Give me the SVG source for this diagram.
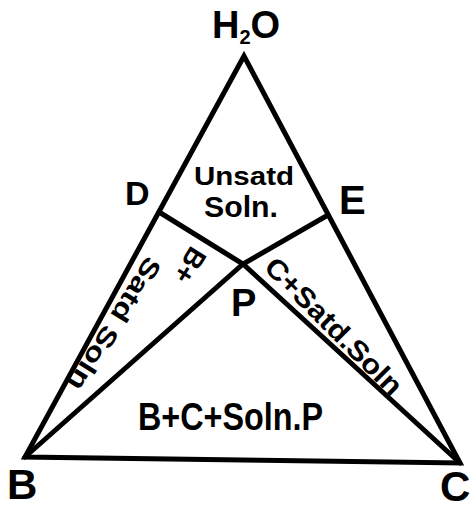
<svg xmlns="http://www.w3.org/2000/svg" width="470" height="509" viewBox="0 0 470 509">
<style>
.ln{fill:none;stroke:#000;stroke-width:5;stroke-linejoin:miter;stroke-linecap:round}
text{font-family:"Liberation Sans",Arial,sans-serif;font-weight:bold;fill:#000}
</style>
<rect width="470" height="509" fill="#fff"/>
<g id="connectors">
<polygon class="ln" points="244,56 25,457 460,463"/>
<polyline class="ln" points="159,212 243,264 460,463"/>
<polyline class="ln" points="328,215 243,264 25,457"/>
</g>
<g id="node-H2O"><text x="246" y="38" font-size="38" text-anchor="middle">H<tspan font-size="20" dy="6">2</tspan><tspan dy="-6">O</tspan></text></g>
<g id="node-B"><text x="7" y="499" font-size="42">B</text></g>
<g id="node-C"><text x="440" y="501" font-size="42">C</text></g>
<g id="node-D"><text x="125" y="205" font-size="34">D</text></g>
<g id="node-E"><text x="339" y="214" font-size="40">E</text></g>
<g id="node-P"><text x="231" y="316" font-size="38">P</text></g>
<g id="region-unsatd">
<text x="194" y="185" font-size="26" textLength="100" lengthAdjust="spacingAndGlyphs">Unsatd</text>
<text x="204" y="217" font-size="30" textLength="74" lengthAdjust="spacingAndGlyphs">Soln.</text>
</g>
<g id="region-B-satd">
<text transform="rotate(122)" text-anchor="middle"><tspan x="124.5" y="-292" font-size="28">B+</tspan><tspan x="214" y="-260" font-size="26" textLength="152" lengthAdjust="spacingAndGlyphs">Satd Soln</tspan></text>
</g>
<g id="region-C-satd">
<text transform="translate(327,333) rotate(45)" font-size="28" text-anchor="middle" textLength="182" lengthAdjust="spacingAndGlyphs">C+Satd.Soln</text>
</g>
<g id="region-BC">
<text x="138" y="430" font-size="38" textLength="185" lengthAdjust="spacingAndGlyphs">B+C+Soln.P</text>
</g>
</svg>
